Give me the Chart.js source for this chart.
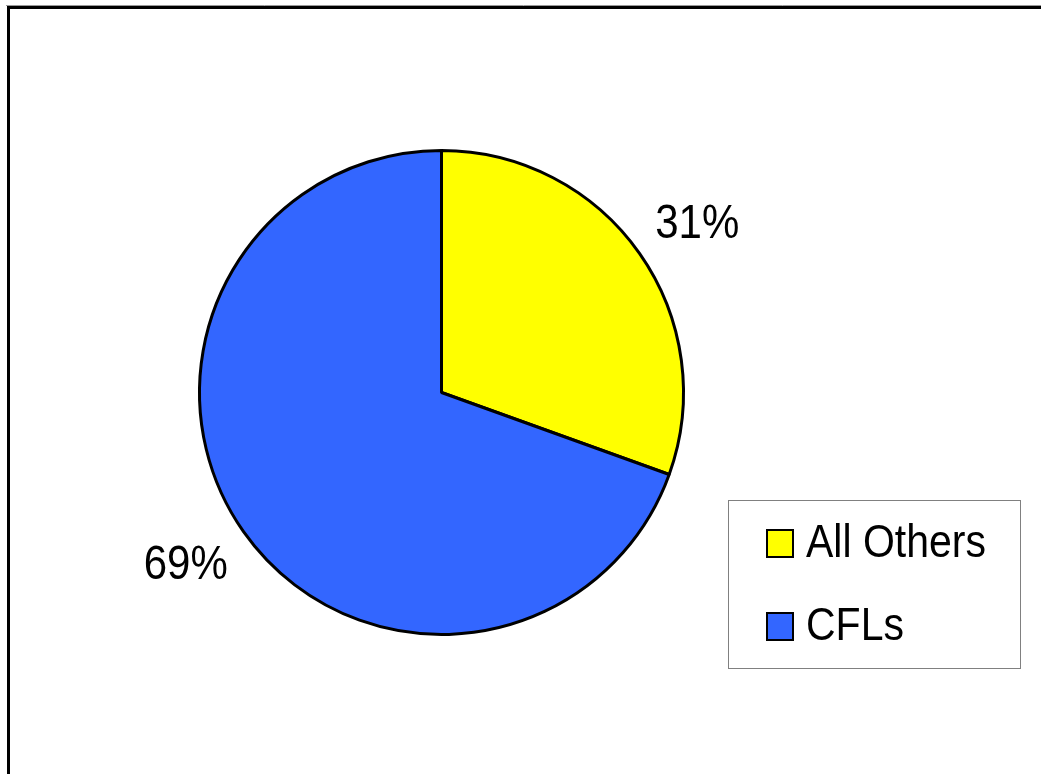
<!DOCTYPE html>
<html>
<head>
<meta charset="utf-8">
<script src="https://cdn.jsdelivr.net/npm/chart.js@4"></script>
<style>
  html, body { margin: 0; padding: 0; background: #fff; }
  #wrap { position: absolute; left: 0; top: 0; width: 1041px; height: 774px; }
</style>
</head>
<body>
<div id="wrap"><canvas id="myChart" width="1041" height="774"></canvas></div>
<script>
// chart values
var labels = ["All Others", "CFLs"];
var values = [30.5, 69.5];
var pctLabels = ["31%", "69%"];
var colors = ["#FFFF00", "#3366FF"];

var FONT = "'Liberation Sans', Arial, sans-serif";
var STRETCH = 1.13;   // text in the picture is a bit taller than normal

function tallText(c, txt, x, baseline) {
  c.save();
  c.translate(x, baseline);
  c.scale(1, STRETCH);
  c.fillText(txt, 0, 0);
  c.restore();
}

// frame line round the whole chart (cut off on right and bottom)
var framePlugin = {
  id: 'frame',
  beforeDraw: function(chart) {
    var c = chart.ctx;
    c.save();
    c.strokeStyle = "#999";
    c.lineWidth = 1;
    c.beginPath();
    c.moveTo(6, 5.5); c.lineTo(1041, 5.5);
    c.stroke();
    c.strokeStyle = "#000";
    c.lineWidth = 3;
    c.beginPath();
    c.moveTo(8.5, 774); c.lineTo(8.5, 7.5); c.lineTo(1041, 7.5);
    c.stroke();
    c.restore();
  }
};

// percent labels outside the slices
var pctPlugin = {
  id: 'pct',
  afterDatasetsDraw: function(chart) {
    var c = chart.ctx;
    var meta = chart.getDatasetMeta(0);
    c.save();
    c.fillStyle = "#000";
    c.font = "42px " + FONT;
    c.textAlign = "center";
    c.textBaseline = "alphabetic";
    meta.data.forEach(function(arc, i) {
      var p = arc.getProps(['x', 'y', 'startAngle', 'endAngle', 'outerRadius'], true);
      var mid = (p.startAngle + p.endAngle) / 2 + 0.025;
      var r = p.outerRadius * 1.27;
      var cx = p.x + Math.cos(mid) * r;
      var cy = p.y + Math.sin(mid) * r;
      tallText(c, pctLabels[i], cx, cy + 16);
    });
    c.restore();
  }
};

// boxed legend at lower right
var legendPlugin = {
  id: 'boxLegend',
  afterDraw: function(chart) {
    var c = chart.ctx;
    c.save();
    c.strokeStyle = "#808080";
    c.lineWidth = 1;
    c.strokeRect(728.5, 500.5, 292, 168);
    c.font = "41px " + FONT;
    c.textBaseline = "alphabetic";
    c.textAlign = "left";
    var rows = [557, 640];
    labels.forEach(function(lab, i) {
      c.fillStyle = colors[i];
      c.fillRect(767, rows[i] - 27, 26, 27);
      c.strokeStyle = "#000";
      c.lineWidth = 2;
      c.strokeRect(767, rows[i] - 27, 26, 27);
      c.fillStyle = "#000";
      tallText(c, lab, 806, rows[i]);
    });
    c.restore();
  }
};

var ctx = document.getElementById("myChart").getContext('2d');
var myChart = new Chart(ctx, {
  type: 'pie',
  data: {
    labels: labels,
    datasets: [{
      data: values,
      backgroundColor: colors,
      borderColor: "#000",
      borderWidth: 3
    }]
  },
  options: {
    responsive: false,
    animation: false,
    layout: { padding: { left: 198, right: 356, top: 149, bottom: 138 } },
    plugins: {
      legend: { display: false },
      tooltip: { enabled: false }
    }
  },
  plugins: [framePlugin, pctPlugin, legendPlugin]
});
</script>
</body>
</html>
